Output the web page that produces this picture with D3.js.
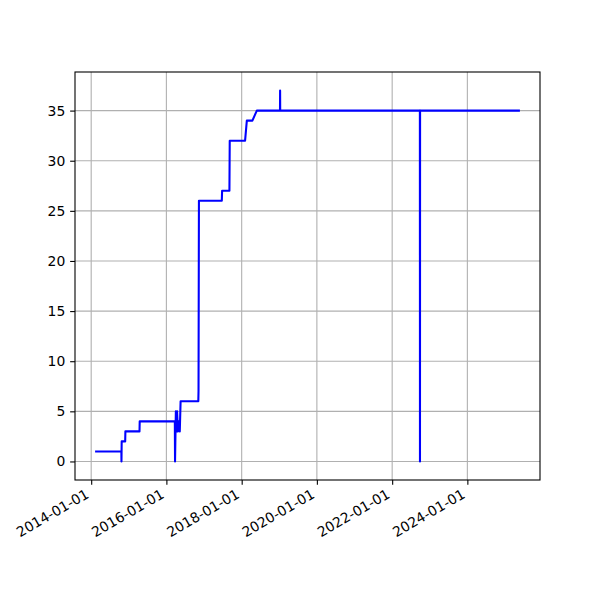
<!DOCTYPE html>
<html>
<head>
<meta charset="utf-8">
<script src="https://cdn.jsdelivr.net/npm/d3@7"></script>
<style>
  html, body { margin: 0; padding: 0; background: #fff; }
  svg { display: block; font-family: "DejaVu Sans", sans-serif; }
</style>
</head>
<body>
<svg id="chart" width="600" height="600"></svg>
<script>
// Data (dates and values)
const dates = [
  "2014-02-18","2014-10-21","2014-10-22","2014-10-24","2014-11-27","2014-11-29",
  "2015-04-15","2015-04-17","2016-03-23","2016-03-25","2016-03-28","2016-04-02",
  "2016-04-08","2016-04-14","2016-04-22","2016-05-01","2016-05-10","2016-05-18",
  "2016-11-06","2016-11-08","2016-11-12","2017-06-22","2017-06-25","2017-09-04",
  "2017-09-07","2018-02-03","2018-02-20","2018-04-15","2018-05-28","2019-01-08",
  "2019-01-09","2019-01-10","2022-09-27","2022-09-28","2022-09-29","2025-05-15"
];
const values = [
  1,1,0,2,2,3,
  3,4,4,0,2,5,
  3,5,3,4,3,6,
  6,7,26,26,27,27,
  32,32,34,34,35,35,
  37,35,35,0,35,35
];
const xTickLabels = ["2014-01-01","2016-01-01","2018-01-01","2020-01-01","2022-01-01","2024-01-01"];
const yTickValues = [0,5,10,15,20,25,30,35];

const parse = d3.utcParse("%Y-%m-%d");
const data = dates.map((d, i) => ({ date: parse(d), value: values[i] }));

const svg = d3.select("#chart");
const margin = { left: 75, right: 60, top: 72, bottom: 120 };
const W = 600, H = 600;
const x0 = margin.left, x1 = W - margin.right, y0 = margin.top, y1 = H - margin.bottom;

// matplotlib-style 5% margins
const [dmin, dmax] = d3.extent(data, d => d.date);
const span = dmax - dmin;
const x = d3.scaleUtc()
  .domain([new Date(+dmin - 0.05 * span), new Date(+dmax + 0.05 * span)])
  .range([x0, x1]);
const [vmin, vmax] = d3.extent(values);
const vspan = vmax - vmin;
const y = d3.scaleLinear()
  .domain([vmin - 0.05 * vspan, vmax + 0.05 * vspan])
  .range([y1, y0]);

const xTicks = xTickLabels.map(parse);

// grid
const grid = svg.append("g");
grid.selectAll("line.gx").data(xTicks).join("line")
  .attr("x1", d => x(d)).attr("x2", d => x(d))
  .attr("y1", y0).attr("y2", y1)
  .attr("stroke", "#b0b0b0").attr("stroke-width", 1.1);
grid.selectAll("line.gy").data(yTickValues).join("line")
  .attr("x1", x0).attr("x2", x1)
  .attr("y1", d => y(d)).attr("y2", d => y(d))
  .attr("stroke", "#b0b0b0").attr("stroke-width", 1.1);

// line
const line = d3.line().x(d => x(d.date)).y(d => y(d.value));
svg.append("path").datum(data)
  .attr("d", line)
  .attr("fill", "none")
  .attr("stroke", "blue")
  .attr("stroke-width", 2.08)
  .attr("stroke-linejoin", "round")
  .attr("stroke-linecap", "square");

// axes
const xAxis = d3.axisBottom(x).tickValues(xTicks).tickSize(4.86).tickPadding(4.86)
  .tickFormat(d3.utcFormat("%Y-%m-%d"));
const gx = svg.append("g").attr("transform", `translate(0,${y1})`).call(xAxis);
gx.select(".domain").remove();
gx.selectAll(".tick line").attr("stroke", "#000").attr("stroke-width", 1.1);
gx.selectAll(".tick text")
  .attr("font-size", 13.9)
  .attr("font-family", "DejaVu Sans")
  .attr("fill", "#000")
  .attr("text-anchor", "end")
  .attr("y", 0).attr("dy", 0)
  .attr("dominant-baseline", "hanging")
  .attr("transform", "translate(-7,8) rotate(-30)");

const yAxis = d3.axisLeft(y).tickValues(yTickValues).tickSize(4.86).tickPadding(4.86)
  .tickFormat(d3.format("d"));
const gy = svg.append("g").attr("transform", `translate(${x0},0)`).call(yAxis);
gy.select(".domain").remove();
gy.selectAll(".tick line").attr("stroke", "#000").attr("stroke-width", 1.1);
gy.selectAll(".tick text")
  .attr("font-size", 13.9)
  .attr("font-family", "DejaVu Sans")
  .attr("fill", "#000");

// frame
svg.append("rect")
  .attr("x", x0).attr("y", y0)
  .attr("width", x1 - x0).attr("height", y1 - y0)
  .attr("fill", "none").attr("stroke", "#000").attr("stroke-width", 1.1);
</script>
</body>
</html>
